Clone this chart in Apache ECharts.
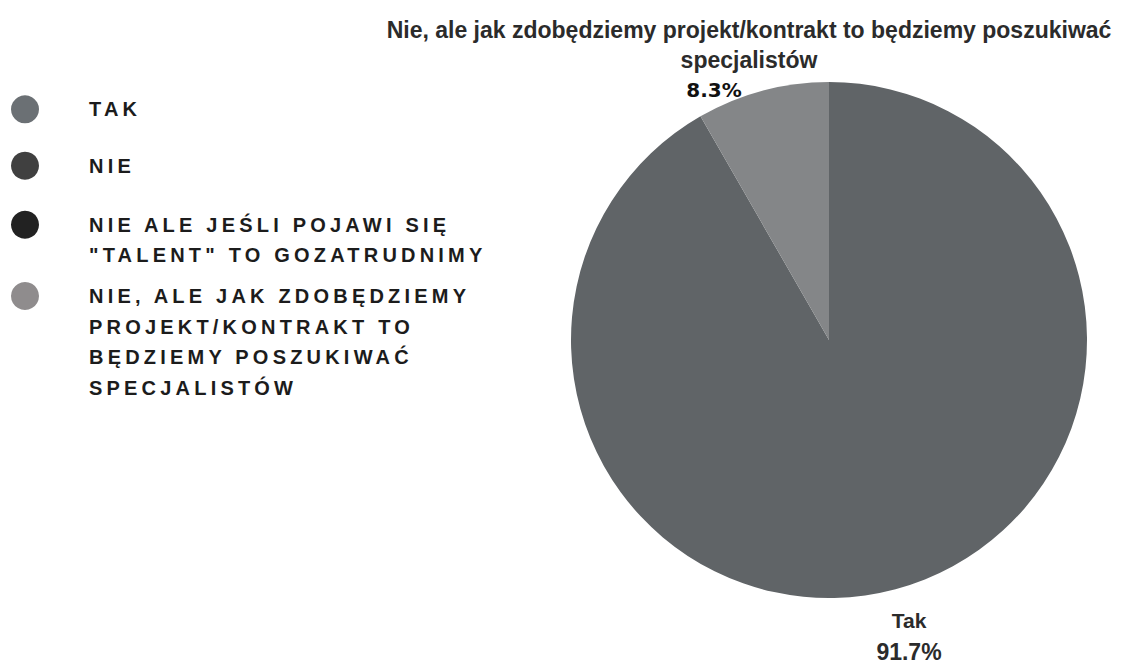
<!DOCTYPE html>
<html>
<head>
<meta charset="utf-8">
<script src="https://cdn.jsdelivr.net/npm/echarts@6/dist/echarts.min.js"></script>
<style>
  html, body { margin: 0; padding: 0; background: #fff; }
  #chart { width: 1121px; height: 664px; }
  /* spaced-out capitals for the legend entries */
  #chart text[style*="Liberation Sans"] { letter-spacing: 4.2px; }
</style>
</head>
<body>
<div id="chart"></div>
<script>
// Answer categories, in legend order
const categories = [
  'Tak',
  'Nie',
  'Nie ale jeśli pojawi się "talent" to gozatrudnimy',
  'Nie, ale jak zdobędziemy projekt/kontrakt to będziemy poszukiwać specjalistów'
];
// Legend captions (upper case, broken into lines)
const legendLabels = [
  'TAK',
  'NIE',
  'NIE ALE JEŚLI POJAWI SIĘ\n"TALENT" TO GOZATRUDNIMY',
  'NIE, ALE JAK ZDOBĘDZIEMY\nPROJEKT/KONTRAKT TO\nBĘDZIEMY POSZUKIWAĆ\nSPECJALISTÓW'
];
// Slice captions (name part)
const sliceNames = [
  'Tak',
  'Nie',
  'Nie ale jeśli pojawi się "talent" to gozatrudnimy',
  'Nie, ale jak zdobędziemy projekt/kontrakt to będziemy poszukiwać\nspecjalistów'
];
// Share of answers, percent
const values = [91.7, 0, 0, 8.3];
const colors = ['#606467', '#404040', '#222222', '#848688'];
const legendColors = ['#6b7074', '#404040', '#222222', '#8f8c8d'];

const chart = echarts.init(document.getElementById('chart'), null, { renderer: 'svg' });

// One legend block per answer; leading empty lines keep the dot level with the first caption line
const legendTops = [95.3, 151.7, 179, 189.25];
const lineHeights = [28, 28, 30.5, 30.5];
const legends = categories.map((name, i) => {
  const lines = legendLabels[i].split('\n');
  const caption = new Array(lines.length - 1).fill('').concat(lines).join('\n');
  return {
    orient: 'vertical',
    left: 11,
    top: legendTops[i],
    padding: 0,
    icon: 'circle',
    itemWidth: 28,
    itemHeight: 28,
    selectedMode: false,
    data: [{ name: name, itemStyle: { color: legendColors[i] } }],
    formatter: () => caption,
    textStyle: {
      fontFamily: 'Liberation Sans',
      fontWeight: 'bold',
      fontSize: 20,
      lineHeight: lineHeights[i],
      color: '#1c1c1c',
      padding: [0, 0, 0, 45]
    }
  };
});

// Label anchor positions (top of the text block)
const labelSpots = {
  0: { x: 909, y: 605 },
  3: { x: 749, y: 15 }
};

chart.setOption({
  animation: false,
  legend: legends,
  series: [{
    type: 'pie',
    center: [829, 340],
    radius: 258,
    startAngle: 90,
    clockwise: true,
    avoidLabelOverlap: false,
    stillShowZeroSum: false,
    data: categories.map((name, i) => ({
      name: name,
      value: values[i],
      itemStyle: { color: colors[i] },
      label: { show: values[i] > 0 }
    })),
    label: {
      position: 'outside',
      align: 'center',
      formatter: (p) => {
        if (p.dataIndex === 0) {
          return '{n0|' + sliceNames[0] + '}\n{p0|' + p.value.toFixed(1) + '%}';
        }
        const parts = sliceNames[p.dataIndex].split('\n');
        return parts.map(s => '{n|' + s + '}').join('\n') + '\n{p|' + p.value.toFixed(1) + '%}';
      },
      rich: {
        n: { fontFamily: 'Arial', fontWeight: 'bold', fontSize: 23, lineHeight: 30, color: '#2b2b2b', align: 'center' },
        p: { fontFamily: 'DejaVu Sans', fontWeight: 'bold', fontSize: 20, lineHeight: 30, color: '#111', align: 'center', padding: [0, 70, 0, 0] },
        n0: { fontFamily: 'Arial', fontWeight: 'bold', fontSize: 21, lineHeight: 31, color: '#2b2b2b', align: 'center' },
        p0: { fontFamily: 'Arial', fontWeight: 'bold', fontSize: 23, lineHeight: 31, color: '#2b2b2b', align: 'center' }
      }
    },
    labelLine: { show: false },
    labelLayout: (params) => {
      const s = labelSpots[params.dataIndex];
      if (!s) return {};
      return { x: s.x, y: s.y, align: 'center', verticalAlign: 'top' };
    },
    emphasis: { disabled: true }
  }]
});
</script>
</body>
</html>
